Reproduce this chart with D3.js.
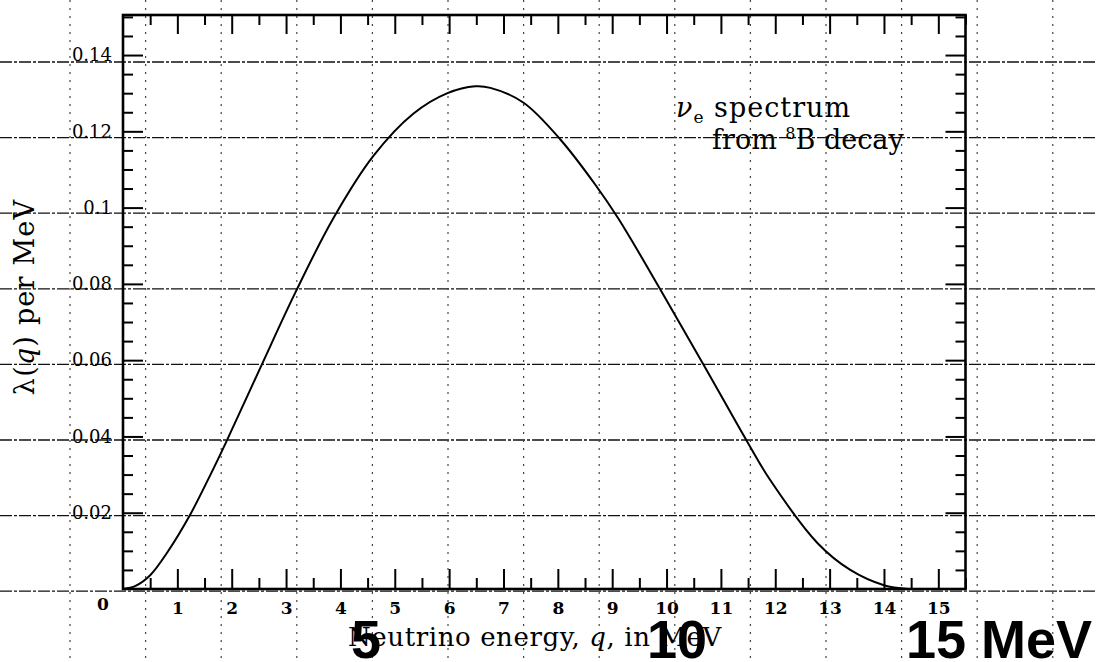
<!DOCTYPE html>
<html>
<head>
<meta charset="utf-8">
<script src="https://cdn.jsdelivr.net/npm/d3@7"></script>
<style>
body { margin: 0; background: #fff; }
svg { display: block; }
</style>
</head>
<body>
<svg width="1096" height="662"></svg>
<script>
// nu_e spectrum from 8B decay
const energy = [0, 0.23, 0.5, 0.82, 1.24, 1.61, 1.88, 2.53, 3.17, 3.87, 4.61, 5.34, 5.97, 6.48, 6.76,
                7.37, 8.05, 8.69, 9.11, 9.92, 10.71, 11.49, 11.91, 12.78, 13.38, 14.0, 14.45];
const lambda = [0, 0.0008, 0.0036, 0.0097, 0.0196, 0.0300, 0.0380, 0.0581, 0.0777, 0.0972, 0.1136, 0.1246, 0.1300, 0.1318, 0.1314,
                0.1275, 0.1178, 0.1060, 0.0972, 0.0777, 0.0581, 0.0385, 0.0285, 0.0120, 0.0050, 0.0010, 0];

const xTicks = d3.range(1, 16);             // 1 .. 15
const xMinor = d3.range(0.5, 15.6, 1);      // half steps
const yTicks = [0.02, 0.04, 0.06, 0.08, 0.1, 0.12, 0.14];
const yMinor = [0.005, 0.01, 0.015, 0.025, 0.03, 0.035, 0.045, 0.05, 0.055, 0.065, 0.07, 0.075,
                0.085, 0.09, 0.095, 0.105, 0.11, 0.115, 0.125, 0.13, 0.135, 0.145, 0.15];
const bigLabels = ["5", "10", "15 MeV"];

const serif = "'DejaVu Serif', 'Liberation Serif', serif";

const svg = d3.select("svg");
const W = 1096, H = 662;

const x = d3.scaleLinear().domain([0, 15.5]).range([123, 965.5]);
const y = d3.scaleLinear().domain([0, 0.1505]).range([589, 15]);

// overlay grid that sits on top of the scanned page
const gx = d3.scaleLinear().domain([0, 1]).range([70, 145.6]);
const gy = d3.scaleLinear().domain([0, 1]).range([62, 137.6]);
const over = svg.append("g");
over.selectAll("line.h").data(d3.range(0, 8)).join("line")
    .attr("class", "h")
    .attr("x1", 0).attr("x2", W)
    .attr("y1", d => gy(d)).attr("y2", d => gy(d))
    .attr("stroke", "#111").attr("stroke-width", 1.3)
    .attr("stroke-dasharray", "12,2,3,2");
over.selectAll("line.v").data(d3.range(0, 14)).join("line")
    .attr("class", "v")
    .attr("y1", 0).attr("y2", H)
    .attr("x1", d => gx(d)).attr("x2", d => gx(d))
    .attr("stroke", "#444").attr("stroke-width", 1.2)
    .attr("stroke-dasharray", "2,6");

// axes (ticks point inwards)
function styleAxis(g) {
    g.select(".domain").remove();
    g.selectAll(".tick line").attr("stroke", "#000").attr("stroke-width", 2);
}

const axBottom = svg.append("g").attr("transform", `translate(0,${y(0)})`);
axBottom.append("g").call(d3.axisBottom(x).tickValues(xTicks).tickSize(-20).tickPadding(13).tickFormat(d3.format("d")))
    .call(styleAxis)
    .selectAll("text").attr("font-family", serif).attr("font-size", 17).attr("font-weight", "bold").attr("fill", "#000");
axBottom.append("g").call(d3.axisBottom(x).tickValues(xMinor).tickSize(-11).tickFormat("")).call(styleAxis);

const axTop = svg.append("g").attr("transform", `translate(0,${y(0.1505)})`);
axTop.append("g").call(d3.axisTop(x).tickValues(xTicks).tickSize(-19).tickFormat("")).call(styleAxis);
axTop.append("g").call(d3.axisTop(x).tickValues(xMinor).tickSize(-10).tickFormat("")).call(styleAxis);

const axLeft = svg.append("g").attr("transform", `translate(${x(0)},0)`);
axLeft.append("g").call(d3.axisLeft(y).tickValues(yTicks).tickSize(-20).tickPadding(11).tickFormat(v => +v.toFixed(2)))
    .call(styleAxis)
    .selectAll("text").attr("font-family", serif).attr("font-size", 18).attr("fill", "#000");
axLeft.append("g").call(d3.axisLeft(y).tickValues(yMinor).tickSize(-10).tickFormat("")).call(styleAxis);

const axRight = svg.append("g").attr("transform", `translate(${x(15.5)},0)`);
axRight.append("g").call(d3.axisRight(y).tickValues(yTicks).tickSize(-20).tickFormat("")).call(styleAxis);
axRight.append("g").call(d3.axisRight(y).tickValues(yMinor).tickSize(-10).tickFormat("")).call(styleAxis);

// frame
svg.append("rect")
    .attr("x", x(0)).attr("y", y(0.1505))
    .attr("width", x(15.5) - x(0)).attr("height", y(0) - y(0.1505))
    .attr("fill", "none").attr("stroke", "#000").attr("stroke-width", 2.6);

// origin label
svg.append("text")
    .attr("x", x(0) - 20).attr("y", y(0) + 21)
    .attr("text-anchor", "middle")
    .attr("font-family", serif).attr("font-size", 17).attr("font-weight", "bold")
    .text("0");

// spectrum curve
const pts = energy.map((q, i) => ({q, v: lambda[i]}));
svg.append("path")
    .datum(pts)
    .attr("fill", "none").attr("stroke", "#000").attr("stroke-width", 2)
    .attr("d", d3.line().x(d => x(d.q)).y(d => y(d.v)).curve(d3.curveCatmullRom.alpha(0.5)));

// annotation
const ann1 = svg.append("text").attr("x", 676).attr("y", 117)
    .attr("font-family", serif).attr("font-size", 27).attr("letter-spacing", 1);
ann1.append("tspan").attr("font-style", "italic").text("ν");
ann1.append("tspan").attr("dy", 6).attr("font-size", 17).text("e");
ann1.append("tspan").attr("dy", -6).text(" spectrum");

const ann2 = svg.append("text").attr("x", 712).attr("y", 149)
    .attr("font-family", serif).attr("font-size", 27);
ann2.append("tspan").text("from ");
ann2.append("tspan").attr("dy", -10).attr("font-size", 16).text("8");
ann2.append("tspan").attr("dy", 10).text("B decay");

// axis titles
const xt = svg.append("text").attr("x", 535).attr("y", 646)
    .attr("text-anchor", "middle")
    .attr("font-family", serif).attr("font-size", 26).attr("letter-spacing", 0.6);
xt.append("tspan").text("Neutrino energy, ");
xt.append("tspan").attr("font-style", "italic").text("q");
xt.append("tspan").text(", in MeV");

const yt = svg.append("text")
    .attr("transform", "translate(34,297) rotate(-90)")
    .attr("text-anchor", "middle")
    .attr("font-family", serif).attr("font-size", 27).attr("letter-spacing", 1.2);
yt.append("tspan").text("λ(");
yt.append("tspan").attr("font-style", "italic").text("q");
yt.append("tspan").text(") per MeV");

// big bold labels pasted over the bottom
const bigPos = [[366, "middle"], [677, "middle"], [906, "start"]];
svg.selectAll("text.big").data(bigLabels).join("text")
    .attr("class", "big")
    .attr("x", (d, i) => bigPos[i][0]).attr("y", 658)
    .attr("text-anchor", (d, i) => bigPos[i][1])
    .attr("font-family", "'Liberation Sans', Arial, sans-serif")
    .attr("font-weight", "bold").attr("font-size", 54)
    .text(d => d);
</script>
</body>
</html>
